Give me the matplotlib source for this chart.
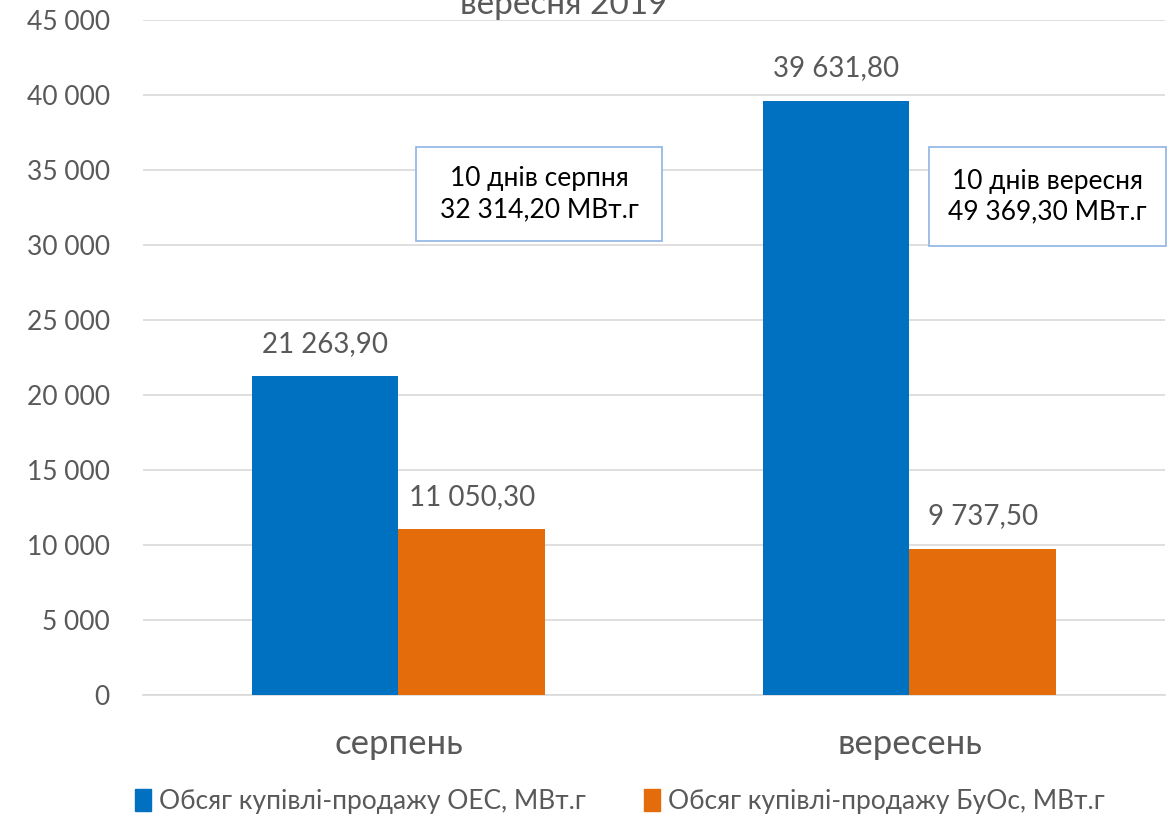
import matplotlib.pyplot as plt
from matplotlib.patches import Rectangle, Patch
from matplotlib.ticker import FuncFormatter
import numpy as np

plt.rcParams['font.family'] = ['Lato', 'DejaVu Sans']

categories = ["серпень", "вересень"]
oes_values = [21263.90, 39631.80]
buos_values = [11050.30, 9737.50]
series_names = ["Обсяг купівлі-продажу ОЕС, МВт.г", "Обсяг купівлі-продажу БуОс, МВт.г"]
box_texts = ["10 днів серпня\n32 314,20 МВт.г", "10 днів вересня\n49 369,30 МВт.г"]
title_text = "вересня 2019"

BLUE = "#0070C0"
ORANGE = "#E46C0A"
GREY = "#595959"


def fmt_num(v, decimals=2):
    s = f"{v:,.{decimals}f}"
    return s.replace(",", " ").replace(".", ",")


fig = plt.figure(figsize=(11.76, 8.19), dpi=100)
ax = fig.add_axes([0.1216, 0.1514, 0.869, 0.8242])

x = np.arange(len(categories))
w = 0.287
b1 = ax.bar(x - w / 2, oes_values, w, color=BLUE, zorder=3)
b2 = ax.bar(x + w / 2, buos_values, w, color=ORANGE, zorder=3)

for bars, vals in ((b1, oes_values), (b2, buos_values)):
    for rect, v in zip(bars, vals):
        ax.annotate(fmt_num(v), (rect.get_x() + rect.get_width() / 2, v),
                    xytext=(0, 14), textcoords="offset points",
                    ha="center", va="bottom", fontsize=20, color=GREY)

ax.set_xlim(-0.5, 1.5)
ax.set_ylim(0, 45000)
ax.set_yticks(np.arange(0, 45001, 5000))
ax.yaxis.set_major_formatter(FuncFormatter(lambda v, p: fmt_num(v, 0)))
ax.set_xticks(x)
ax.set_xticklabels(categories, fontsize=25, color=GREY)
ax.tick_params(axis="y", labelsize=19, labelcolor=GREY, length=0, pad=24)
ax.tick_params(axis="x", length=0, pad=24)
ax.grid(axis="y", color="#D9D9D9", linewidth=1.2, zorder=0)
for s in ("top", "right", "left"):
    ax.spines[s].set_visible(False)
ax.spines["bottom"].set_color("#D9D9D9")
ax.spines["bottom"].set_linewidth(1.2)

# annotation boxes (figure pixel layout)
W, H = 1176, 819
boxes = [(416, 147, 246, 94), (929, 147, 237, 99)]
for (bx, by, bw, bh), txt in zip(boxes, box_texts):
    fig.patches.append(Rectangle((bx / W, 1 - (by + bh) / H), bw / W, bh / H,
                                 transform=fig.transFigure, facecolor="white",
                                 edgecolor="#8EB4E3", linewidth=1.2, zorder=5))
    fig.text((bx + bw / 2) / W, 1 - (by + bh / 2) / H, txt, ha="center", va="center",
             fontsize=19, color="black", linespacing=1.3, zorder=6)

# title is partly cut off by the top edge, as in the source image
fig.text(0.479, 1 - 5 / H, title_text, ha="center", va="center", fontsize=24, color=GREY)

handles = [Patch(color=BLUE), Patch(color=ORANGE)]
fig.legend(handles, series_names, loc="center", bbox_to_anchor=(0.527, 0.021), ncol=2,
           frameon=False, fontsize=19, labelcolor=GREY, handlelength=0.6, handleheight=0.9,
           handletextpad=0.3, columnspacing=2.2)

fig.savefig("out.png", dpi=100)
